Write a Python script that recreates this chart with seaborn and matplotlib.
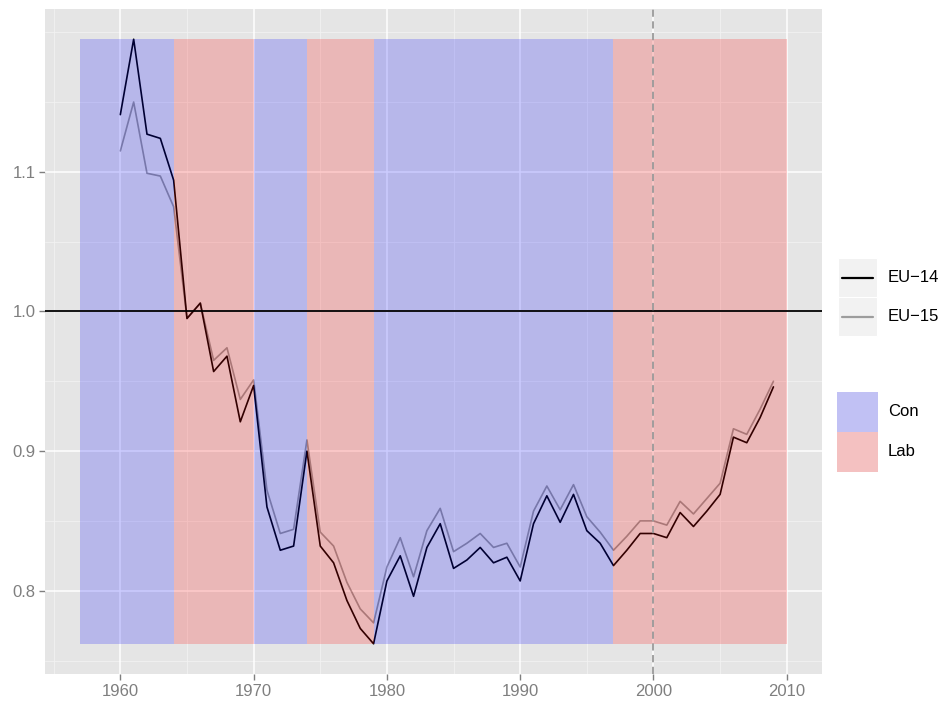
import numpy as np
import pandas as pd
import matplotlib
matplotlib.use("Agg")
import matplotlib.pyplot as plt
from matplotlib.patches import Rectangle
from matplotlib.lines import Line2D
import seaborn as sns

### data

years = list(range(1960, 2010))

eu14 = [1.141, 1.195, 1.127, 1.124, 1.094, 0.995, 1.006, 0.957, 0.968, 0.921,
        0.947, 0.860, 0.829, 0.832, 0.900, 0.832, 0.820, 0.793, 0.773, 0.762,
        0.807, 0.825, 0.796, 0.831, 0.848, 0.816, 0.822, 0.831, 0.820, 0.824,
        0.807, 0.848, 0.868, 0.849, 0.869, 0.843, 0.834, 0.818, 0.829, 0.841,
        0.841, 0.838, 0.856, 0.846, 0.857, 0.869, 0.910, 0.906, 0.924, 0.946]

eu15 = [1.115, 1.150, 1.099, 1.097, 1.075, 0.995, 1.006, 0.965, 0.974, 0.937,
        0.951, 0.872, 0.841, 0.844, 0.908, 0.842, 0.832, 0.806, 0.787, 0.777,
        0.817, 0.838, 0.810, 0.843, 0.859, 0.828, 0.834, 0.841, 0.831, 0.834,
        0.817, 0.857, 0.875, 0.858, 0.876, 0.853, 0.842, 0.829, 0.839, 0.850,
        0.850, 0.847, 0.864, 0.855, 0.866, 0.877, 0.916, 0.912, 0.930, 0.950]

series_names = ["EU\u221214", "EU\u221215"]

gov_start = [1957, 1964, 1970, 1974, 1979, 1990, 1997]
gov_end = [1964, 1970, 1974, 1979, 1990, 1997, 2010]
gov_party = ["Con", "Lab", "Con", "Lab", "Con", "Con", "Lab"]
party_names = ["Con", "Lab"]
party_colours = {"Con": "blue", "Lab": "red"}

x_ticks = [1960, 1970, 1980, 1990, 2000, 2010]
y_ticks = [0.8, 0.9, 1.0, 1.1]

df = pd.DataFrame({"year": years * 2,
                   "ratio": eu14 + eu15,
                   "series": [series_names[0]] * len(years) + [series_names[1]] * len(years)})

sns.set_theme(style="darkgrid")
plt.rcParams['font.family'] = ['Liberation Sans', 'DejaVu Sans']

fig = plt.figure(figsize=(9.46, 7.04), dpi=100)
ax = fig.add_axes([0.0476, 0.0426, 0.8214, 0.9446])
ax.set_facecolor("#E5E5E5")

## limits like ggplot: 5% expansion over everything drawn
ymin, ymax = min(eu14), max(eu14)
xlo, xhi = min(gov_start), max(gov_end)
ax.set_xlim(xlo - 0.05 * (xhi - xlo), xhi + 0.05 * (xhi - xlo))
ax.set_ylim(ymin - 0.05 * (ymax - ymin), ymax + 0.05 * (ymax - ymin))

## grid, minor then major
ax.grid(False)
for v in np.arange(1955, 2015, 10):
    ax.axvline(v, color="#F2F2F2", lw=0.6, zorder=0.5)
for v in [0.75, 0.85, 0.95, 1.05, 1.15, 1.2]:
    ax.axhline(v, color="#F2F2F2", lw=0.6, zorder=0.5)
for v in x_ticks:
    ax.axvline(v, color="white", lw=1.1, zorder=0.6)
for v in y_ticks:
    ax.axhline(v, color="white", lw=1.1, zorder=0.6)

sns.lineplot(data=df[df.series == series_names[0]], x="year", y="ratio",
             color="black", lw=1.2, ax=ax, legend=False, zorder=2)
sns.lineplot(data=df[df.series == series_names[1]], x="year", y="ratio",
             color="black", alpha=0.35, lw=1.2, ax=ax, legend=False, zorder=2)

## government shading on top of the lines
for s, e, p in zip(gov_start, gov_end, gov_party):
    ax.add_patch(Rectangle((s, ymin), e - s, ymax - ymin, facecolor=party_colours[p],
                           alpha=0.2, edgecolor="none", zorder=3))

ax.axhline(1.0, color="black", lw=1.3, zorder=4)
ax.axvline(2000, color="#999999", lw=1.3, dashes=(4, 2.5), zorder=4)

ax.set_xticks(x_ticks)
ax.set_yticks(y_ticks)
ax.set_yticklabels(["%.1f" % t for t in y_ticks])
ax.tick_params(axis="both", colors="#7F7F7F", labelcolor="#7F7F7F", labelsize=12,
               length=4, width=1, direction="out", pad=3)
ax.tick_params(axis="x", bottom=True)
ax.tick_params(axis="y", left=True)
ax.set_xlabel("")
ax.set_ylabel("")
for sp in ax.spines.values():
    sp.set_visible(False)

## legends drawn by hand, ggplot style keys (pixel positions from top-left)
W, H = 946, 704
def box(x0, y0, x1, y1, **kw):
    fig.add_artist(Rectangle((x0 / W, 1 - y1 / H), (x1 - x0) / W, (y1 - y0) / H,
                             transform=fig.transFigure, **kw))

key_top = [258, 297]
for i, name in enumerate(series_names):
    y0 = key_top[i]
    box(838, y0, 877, y0 + 39, facecolor="#F2F2F2", edgecolor="white", lw=0.8)
    yc = 1 - (y0 + 19.5) / H
    fig.add_artist(Line2D([842 / W, 873 / W], [yc, yc], color="black",
                          alpha=1.0 if i == 0 else 0.35, lw=1.6, transform=fig.transFigure))
    fig.text(888 / W, yc, name, fontsize=12, va="center", ha="left", color="black")

fill_top = [392, 432]
for i, p in enumerate(party_names):
    y0 = fill_top[i]
    box(837, y0, 878, y0 + 40, facecolor="#F2F2F2", edgecolor="none")
    box(837, y0, 878, y0 + 40, facecolor=party_colours[p], alpha=0.2, edgecolor="none")
    fig.text(888 / W, 1 - (y0 + 20) / H, p, fontsize=12, va="center", ha="left", color="black")

plt.savefig("out.png", dpi=100)
